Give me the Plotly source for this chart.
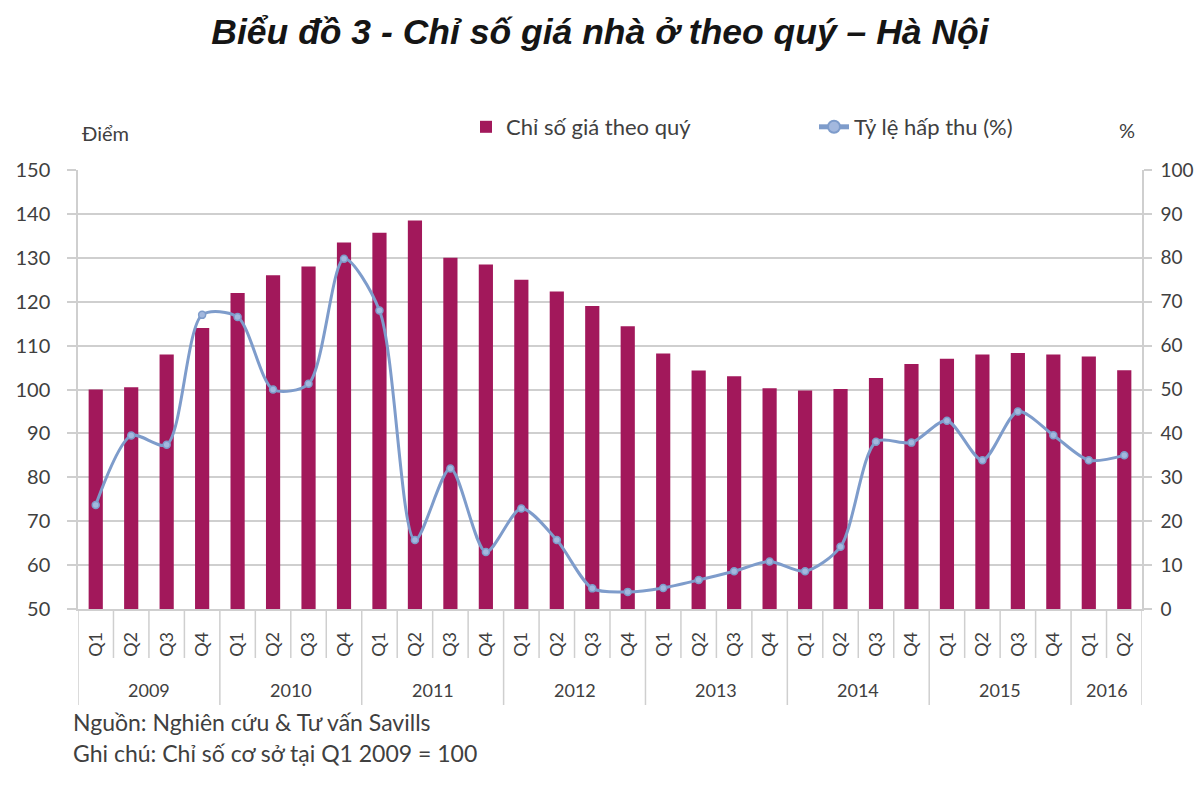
import plotly.graph_objects as go

years = ["2009"]*4 + ["2010"]*4 + ["2011"]*4 + ["2012"]*4 + ["2013"]*4 + ["2014"]*4 + ["2015"]*4 + ["2016"]*2
quarters = ["Q1", "Q2", "Q3", "Q4"]*7 + ["Q1", "Q2"]

price_index = [100, 100.5, 108, 114, 122, 126, 128, 133.5,
               135.7, 138.5, 130, 128.5, 125, 122.3, 119, 114.4,
               108.2, 104.3, 103, 100.3, 99.8, 100.1, 102.6, 105.8,
               107, 108, 108.3, 108, 107.5, 104.4]
absorption = [23.7, 39.5, 37.4, 67, 66.5, 50, 51.3, 79.8,
              68, 15.7, 32, 13, 22.9, 15.7, 4.7, 3.9,
              4.8, 6.6, 8.6, 10.8, 8.6, 14.2, 38.1, 37.9,
              42.9, 33.9, 45, 39.6, 33.9, 35]

bar_name = "Chỉ số giá theo quý"
line_name = "Tỷ lệ hấp thu (%)"
title = "Biểu đồ 3 - Chỉ số giá nhà ở theo quý – Hà Nội"
left_unit = "Điểm"
right_unit = "%"
source = "Nguồn: Nghiên cứu & Tư vấn Savills"
note = "Ghi chú: Chỉ số cơ sở tại Q1 2009 = 100"

bar_color = "#A2185B"
line_color = "#7E9CCB"
text_color = "#404040"
grid_color = "#CFCFCF"
font_family = "Lato"

# unique category keys built from the two label lists
cats = [f"{q} {y}" for q, y in zip(quarters, years)]

# plot-area geometry (pixels) used for paper-relative placements
L, R, T, B = 78, 1142, 170, 609
PW, PH = R - L, B - T

def px_x(x):
    return (x - L) / PW

fig = go.Figure()
fig.add_trace(go.Bar(
    x=cats, y=price_index, name=bar_name,
    marker=dict(color=bar_color, line=dict(width=0)),
    yaxis="y", legend="legend"))
fig.add_trace(go.Scatter(
    x=cats, y=absorption, name=line_name,
    mode="lines+markers", line=dict(color=line_color, width=3, shape="spline", smoothing=0.8),
    marker=dict(size=7, color="#A3B8DE", line=dict(color=line_color, width=1.5)),
    yaxis="y2", legend="legend2"))

legend_font = dict(size=22, color=text_color, family=font_family)
legend_y = 1 + (T - 127) / PH

fig.update_layout(
    width=1200, height=800,
    margin=dict(l=L, r=1200 - R, t=T, b=800 - B, autoexpand=False),
    paper_bgcolor="white", plot_bgcolor="white",
    font=dict(family=font_family, color=text_color, size=18),
    bargap=0.6,
    showlegend=True,
    legend=dict(orientation="h", x=px_x(466), y=legend_y, xanchor="left", yanchor="middle",
                font=legend_font, itemsizing="constant"),
    legend2=dict(orientation="h", x=px_x(814), y=legend_y, xanchor="left", yanchor="middle",
                 font=legend_font, itemsizing="constant"),
    title=dict(text="<b><i>" + title + "</i></b>", x=0.5, xanchor="center", y=0.96, yanchor="middle",
               font=dict(family="Liberation Sans", size=35.5, color="#151515")),
    xaxis=dict(type="category", range=[-0.5, len(cats) - 0.5], automargin=False,
               tickmode="array", tickvals=cats, ticktext=quarters, tickangle=-90,
               showgrid=False, ticks="", showline=True, linecolor=grid_color, linewidth=1.5,
               tickfont=dict(size=18, color=text_color), ticklabelstandoff=14),
    yaxis=dict(range=[50, 150], dtick=10, showgrid=True, gridcolor=grid_color, gridwidth=1.5,
               automargin=False,
               showline=True, linecolor=grid_color, linewidth=1.5, ticks="outside", ticklen=9,
               tickcolor=grid_color, tickwidth=1.5, zeroline=False,
               tickfont=dict(size=20, color=text_color), ticklabelstandoff=13),
    yaxis2=dict(range=[0, 100], dtick=10, overlaying="y", side="right", showgrid=False,
                automargin=False,
                showline=True, linecolor=grid_color, linewidth=1.5, ticks="outside", ticklen=8,
                tickcolor=grid_color, tickwidth=1.5, zeroline=False,
                tickfont=dict(size=19, color=text_color), ticklabelstandoff=5),
)

# category separators below the axis: short ones between quarters, long ones between years
n = len(cats)
for i in range(n + 1):
    year_break = i == 0 or i == n or years[i] != years[i - 1]
    y_end = 705 if year_break else 658
    fig.add_shape(type="line", xref="x", yref="paper", x0=i - 0.5, x1=i - 0.5,
                  y0=0, y1=-(y_end - B) / PH, line=dict(color=grid_color, width=1.5), layer="below")

# year group labels centred under their quarters
seen = []
for y in years:
    if y not in seen:
        seen.append(y)
for y in seen:
    idx = [i for i, v in enumerate(years) if v == y]
    fig.add_annotation(text=y, xref="x", yref="paper", x=sum(idx) / len(idx), y=-(690 - B) / PH,
                       xanchor="center", yanchor="middle", showarrow=False,
                       font=dict(size=18, color=text_color, family=font_family))

fig.add_annotation(text=left_unit, xref="paper", yref="paper", x=px_x(80), y=1 + (T - 133) / PH,
                   xanchor="left", yanchor="middle", showarrow=False,
                   font=dict(size=20, color=text_color, family=font_family))
fig.add_annotation(text=right_unit, xref="paper", yref="paper", x=px_x(1127), y=1 + (T - 130) / PH,
                   xanchor="center", yanchor="middle", showarrow=False,
                   font=dict(size=20, color=text_color, family=font_family))
fig.add_annotation(text=source, xref="paper", yref="paper", x=px_x(71), y=-(722 - B) / PH,
                   xanchor="left", yanchor="middle", showarrow=False,
                   font=dict(size=23, color=text_color, family=font_family))
fig.add_annotation(text=note, xref="paper", yref="paper", x=px_x(71), y=-(753 - B) / PH,
                   xanchor="left", yanchor="middle", showarrow=False,
                   font=dict(size=23, color=text_color, family=font_family))

fig.write_html("out.html")
